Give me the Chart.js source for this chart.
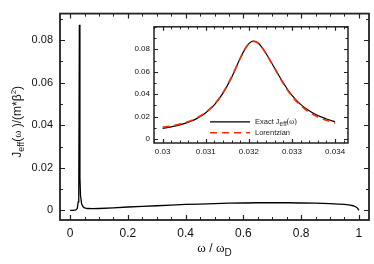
<!DOCTYPE html>
<html><head><meta charset="utf-8">
<script src="https://cdn.jsdelivr.net/npm/chart.js@4.4.0/dist/chart.umd.min.js"></script>
<style>
html,body{margin:0;padding:0;background:#fff;}
#wrap{position:relative;width:374px;height:264px;}
#main{position:absolute;left:0;top:0;}
#inset{position:absolute;left:125px;top:18px;}
</style></head>
<body>
<div id="wrap">
<canvas id="main" width="374" height="264"></canvas>
<canvas id="inset" width="230" height="146"></canvas>
</div>
<script>
// ---- main panel data ----
const mainOmega = [0, 0.01, 0.02, 0.025, 0.028, 0.030, 0.0321, 0.034, 0.036, 0.04, 0.045, 0.05, 0.06, 0.08, 0.1, 0.15, 0.2, 0.25, 0.3, 0.35, 0.4, 0.45, 0.5, 0.55, 0.6, 0.65, 0.7, 0.75, 0.8, 0.85, 0.9, 0.93, 0.95, 0.97, 0.98, 0.99, 0.995, 1.0];
const mainJeff  = [0, 0, 0.0002, 0.001, 0.004, 0.0095, 0.0873, 0.0155, 0.007, 0.003, 0.0017, 0.0012, 0.0009, 0.0008, 0.0009, 0.0012, 0.0016, 0.0019, 0.0022, 0.0025, 0.0028, 0.003, 0.0032, 0.0034, 0.0035, 0.0036, 0.0036, 0.0036, 0.0035, 0.0034, 0.0032, 0.003, 0.0028, 0.0025, 0.0022, 0.0016, 0.0011, 0.0];
const mainXTicks = [0, 0.2, 0.4, 0.6, 0.8, 1];
const mainXTickLabels = ['0', '0.2', '0.4', '0.6', '0.8', '1'];
const mainYTicks = [0, 0.02, 0.04, 0.06, 0.08];
const mainYTickLabels = ['0', '0.02', '0.04', '0.06', '0.08'];

// ---- inset data ----
const insetOmega = [0.03, 0.0302, 0.0304, 0.0306, 0.0308, 0.031, 0.0312, 0.0314, 0.0316, 0.0318, 0.0319, 0.032, 0.0321, 0.0322, 0.0323, 0.0324, 0.0326, 0.0328, 0.033, 0.0332, 0.0334, 0.0336, 0.0338, 0.034];
const insetExact = [0.0095, 0.0110, 0.0127, 0.0152, 0.0185, 0.0235, 0.0305, 0.0410, 0.0550, 0.0720, 0.0795, 0.0850, 0.0873, 0.0860, 0.0820, 0.0762, 0.0630, 0.0500, 0.0390, 0.0310, 0.0252, 0.0210, 0.0180, 0.0155];
const insetLorentz = [0.0105, 0.0118, 0.0135, 0.0158, 0.0190, 0.0240, 0.0310, 0.0415, 0.0555, 0.0720, 0.0795, 0.0850, 0.0870, 0.0858, 0.0818, 0.0760, 0.0628, 0.0495, 0.0383, 0.0300, 0.0240, 0.0198, 0.0168, 0.0143];
const insetXTicks = [0.03, 0.031, 0.032, 0.033, 0.034];
const insetXTickLabels = ['0.03', '0.031', '0.032', '0.033', '0.034'];
const insetYTicks = [0, 0.02, 0.04, 0.06, 0.08];
const insetYTickLabels = ['0', '0.02', '0.04', '0.06', '0.08'];
const legendLabels = ['Exact J', 'eff', '(\u03c9)', 'Lorentzian'];

const SANS = '"Liberation Sans", Arial, Helvetica, sans-serif';
const SERIF = '"Liberation Serif", "Times New Roman", serif';

function pts(xs, ys){ return xs.map((x,i)=>({x:x, y:ys[i]})); }

function drawRich(ctx, parts, x, y, align){
  let w = 0;
  parts.forEach(p=>{ ctx.font = p.f; w += ctx.measureText(p.t).width; });
  let cx = align === 'center' ? x - w/2 : x;
  ctx.textBaseline = 'alphabetic';
  ctx.textAlign = 'left';
  parts.forEach(p=>{ ctx.font = p.f; ctx.fillText(p.t, cx, y + (p.dy||0)); cx += ctx.measureText(p.t).width; });
}

function frameAndTicks(opts){
  return {
    id: 'frame_' + opts.name,
    afterDatasetsDraw(chart){
      const ctx = chart.ctx, a = chart.chartArea;
      const xs = chart.scales.x, ys = chart.scales.y;
      ctx.save();
      ctx.strokeStyle = '#222';
      const drawTick = (v, axis, len) => {
        if (axis === 'x') {
          const p = Math.round(xs.getPixelForValue(v)) + 0.5;
          if (p < a.left || p > a.right) return;
          ctx.moveTo(p, a.bottom); ctx.lineTo(p, a.bottom - len);
          ctx.moveTo(p, a.top); ctx.lineTo(p, a.top + len);
        } else {
          const p = Math.round(ys.getPixelForValue(v)) + 0.5;
          if (p < a.top || p > a.bottom) return;
          ctx.moveTo(a.left, p); ctx.lineTo(a.left + len, p);
          ctx.moveTo(a.right, p); ctx.lineTo(a.right - len, p);
        }
      };
      ctx.lineWidth = 1;
      ctx.beginPath();
      for (let v = opts.xMinorStart; v <= opts.xMinorEnd + 1e-12; v += opts.xMinor) drawTick(v, 'x', opts.minorLen);
      for (let v = opts.yMinorStart; v <= opts.yMinorEnd + 1e-12; v += opts.yMinor) drawTick(v, 'y', opts.minorLen);
      ctx.stroke();
      ctx.lineWidth = 1.2;
      ctx.beginPath();
      opts.xTicks.forEach(v=>drawTick(v,'x',opts.majorLen));
      opts.yTicks.forEach(v=>drawTick(v,'y',opts.majorLen));
      ctx.stroke();
      ctx.lineWidth = opts.frameW;
      ctx.strokeRect(a.left, a.top, a.right - a.left, a.bottom - a.top);
      ctx.restore();
    }
  };
}

// ---------- main chart ----------
const mainTitles = {
  id: 'mainTitles',
  afterDraw(chart){
    const ctx = chart.ctx, a = chart.chartArea;
    ctx.save();
    ctx.fillStyle = '#111';
    drawRich(ctx, [
      {t:'\u03c9', f:'13px ' + SERIF},
      {t:' / ', f:'12px ' + SANS},
      {t:'\u03c9', f:'13px ' + SERIF},
      {t:'D', f:'10px ' + SANS, dy:4}
    ], (a.left + a.right)/2, 252, 'center');
    ctx.translate(21, (a.top + a.bottom)/2 + 5);
    ctx.rotate(-Math.PI/2);
    drawRich(ctx, [
      {t:'J', f:'12px ' + SANS},
      {t:'eff', f:'9px ' + SANS, dy:3},
      {t:'(', f:'12px ' + SANS},
      {t:'\u03c9', f:'11px ' + SERIF},
      {t:' )/(m*\u03b2', f:'12px ' + SANS},
      {t:'2', f:'8px ' + SANS, dy:-5},
      {t:')', f:'12px ' + SANS}
    ], 0, 0, 'center');
    ctx.restore();
  }
};

new Chart(document.getElementById('main'), {
  type: 'scatter',
  data: { datasets: [{
    data: pts(mainOmega, mainJeff),
    showLine: true, borderColor: '#000', borderWidth: 1.3,
    pointRadius: 0, tension: 0, fill: false
  }]},
  options: {
    responsive: false, animation: false, devicePixelRatio: 1,
    layout: { padding: { left: 0, right: 5, top: 5, bottom: 0 } },
    plugins: { legend: { display: false }, tooltip: { enabled: false } },
    scales: {
      x: {
        type: 'linear', min: -0.035, max: 1.035,
        grid: { display: false, drawTicks: false }, border: { display: false },
        afterBuildTicks: s => { s.ticks = mainXTicks.map(v=>({value:v})); },
        afterFit: s => { s.height = 44; },
        ticks: { padding: 6, color: '#111', font: { family: SANS, size: 12 }, maxRotation: 0,
          callback: (v, i) => mainXTickLabels[i] }
      },
      y: {
        type: 'linear', min: -0.0045, max: 0.0925,
        grid: { display: false, drawTicks: false }, border: { display: false },
        afterBuildTicks: s => { s.ticks = mainYTicks.map(v=>({value:v})); },
        afterFit: s => { s.width = 60; },
        ticks: { padding: 7, color: '#111', font: { family: SANS, size: 11 },
          callback: (v, i) => mainYTickLabels[i] }
      }
    }
  },
  plugins: [frameAndTicks({name:'main', frameW:1.8, xTicks:mainXTicks, yTicks:mainYTicks,
    xMinor:0.05, xMinorStart:0, xMinorEnd:1, yMinor:0.01, yMinorStart:0, yMinorEnd:0.09,
    minorLen:3, majorLen:5}), mainTitles]
});

// ---------- inset chart ----------
const insetLegend = {
  id: 'insetLegend',
  afterDraw(chart){
    const ctx = chart.ctx, a = chart.chartArea;
    const x0 = a.left + 56, x1 = a.left + 96, tx = a.left + 101;
    const y1 = a.top + 95, y2 = a.top + 106;
    ctx.save();
    ctx.lineWidth = 1.3; ctx.strokeStyle = '#000';
    ctx.beginPath(); ctx.moveTo(x0, y1); ctx.lineTo(x1, y1); ctx.stroke();
    ctx.strokeStyle = '#ff2a00'; ctx.lineWidth = 1.5; ctx.setLineDash([7,5]);
    ctx.beginPath(); ctx.moveTo(x0, y2); ctx.lineTo(x1, y2); ctx.stroke();
    ctx.setLineDash([]);
    ctx.fillStyle = '#222';
    drawRich(ctx, [
      {t: legendLabels[0], f:'7.5px ' + SANS},
      {t: legendLabels[1], f:'6.5px ' + SANS, dy:2},
      {t: legendLabels[2], f:'7.5px ' + SERIF}
    ], tx, y1 + 2.5, 'left');
    drawRich(ctx, [{t: legendLabels[3], f:'7.5px ' + SANS}], tx, y2 + 2.5, 'left');
    ctx.restore();
  }
};

new Chart(document.getElementById('inset'), {
  type: 'scatter',
  data: { datasets: [
    { data: pts(insetOmega, insetLorentz), showLine: true, borderColor: '#ff2a00', borderWidth: 1.6,
      borderDash: [7,5], pointRadius: 0, tension: 0.4, cubicInterpolationMode: 'monotone', fill: false },
    { data: pts(insetOmega, insetExact), showLine: true, borderColor: '#000', borderWidth: 1.2,
      pointRadius: 0, tension: 0.4, cubicInterpolationMode: 'monotone', fill: false }
  ]},
  options: {
    responsive: false, animation: false, devicePixelRatio: 1,
    layout: { padding: { left: 0, right: 7, top: 4, bottom: 0 } },
    plugins: { legend: { display: false }, tooltip: { enabled: false } },
    scales: {
      x: {
        type: 'linear', min: 0.0298, max: 0.0343,
        grid: { display: false, drawTicks: false }, border: { display: false },
        afterBuildTicks: s => { s.ticks = insetXTicks.map(v=>({value:v})); },
        afterFit: s => { s.height = 21; },
        ticks: { padding: 4, color: '#111', font: { family: SANS, size: 8 }, maxRotation: 0,
          callback: (v, i) => insetXTickLabels[i] }
      },
      y: {
        type: 'linear', min: -0.0034, max: 0.1,
        grid: { display: false, drawTicks: false }, border: { display: false },
        afterBuildTicks: s => { s.ticks = insetYTicks.map(v=>({value:v})); },
        afterFit: s => { s.width = 29; },
        ticks: { padding: 4, color: '#111', font: { family: SANS, size: 8 },
          callback: (v, i) => insetYTickLabels[i] }
      }
    }
  },
  plugins: [{
    id: 'insetBg',
    beforeDraw(chart){ const c = chart.ctx, a = chart.chartArea; c.save(); c.fillStyle = '#fff'; c.fillRect(a.left, a.top, a.right-a.left, a.bottom-a.top); c.restore(); }
  }, frameAndTicks({name:'inset', frameW:1.5, xTicks:insetXTicks, yTicks:insetYTicks,
    xMinor:0.0002, xMinorStart:0.0298, xMinorEnd:0.0343, yMinor:0.01, yMinorStart:0, yMinorEnd:0.1,
    minorLen:2.5, majorLen:4}), insetLegend]
});
</script>
</body></html>
